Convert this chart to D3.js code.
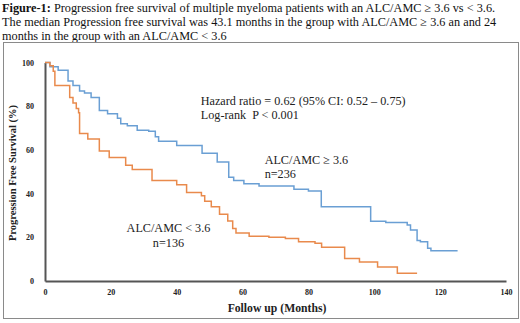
<!DOCTYPE html>
<html><head><meta charset="utf-8">
<script src="https://cdn.jsdelivr.net/npm/d3@7"></script>
<style>
body{margin:0;background:#fff;}
text{font-family:"Liberation Serif","Times New Roman",serif;white-space:pre;}
</style></head>
<body><svg id="c" width="520" height="323"></svg>
<script>
const titleLines = [
  ["Figure-1:", " Progression free survival of multiple myeloma patients with an ALC/AMC \u2265 3.6 vs < 3.6."],
  ["", "The median Progression free survival was 43.1 months in the group with ALC/AMC \u2265 3.6 an and 24"],
  ["", "months in the group with an ALC/AMC < 3.6"]
];
const xTicks = [0,20,40,60,80,100,120,140];
const yTicks = [0,20,40,60,80,100];
const highTime = [0,1.5,4,7,8.5,10.5,12,14,16.5,19,22,23,25,28,31.5,33.5,34.5,40,47.7,52.3,55.8,57.3,60.4,65,75.6,80,83.9,98.9,103.5,110,111,113,114,116.2,117.2,125.3];
const highSurv = [100,98,96.5,91.5,89.5,87,86,84,78,76.5,74.5,72,71,69,68.5,66,64,62,58.5,54.5,47.5,46,44.5,43.5,42,41.2,34,27.3,26.8,25.6,23.3,18.5,18,15,13.8,13.8];
const lowTime = [0,1.5,2.5,3,7.5,8.5,9.5,10.2,10.5,13,16.5,19.5,24.5,26.5,32.5,40,43,47.5,48.5,50.5,53,55.5,57,58,62,68,73,77,82,84,91,95.5,101,107,113];
const lowSurv = [100,98.5,96,89.5,84,81.5,79,77,67.5,65,59.5,56.5,53,51,46,44,40.5,39,36.5,34,30.5,27.5,24,22,20.5,20,19.5,18,17.3,15.5,10.3,8.7,6.4,3.6,3.6];
const annotations = [
  {text:"Hazard ratio = 0.62 (95% CI: 0.52 \u2013 0.75)", t:47.3, s:80.5, anchor:"start"},
  {text:"Log-rank  P < 0.001", t:47.3, s:74, anchor:"start"},
  {text:"ALC/AMC \u2265 3.6", t:66.7, s:53.5, anchor:"start"},
  {text:"n=236", t:66.7, s:47, anchor:"start"},
  {text:"ALC/AMC < 3.6", t:37.5, s:22.5, anchor:"middle"},
  {text:"n=136", t:37.5, s:15.7, anchor:"middle"}
];

const svg = d3.select("#c");
const x = d3.scaleLinear().domain([0,140]).range([45,506]);
const y = d3.scaleLinear().domain([0,100]).range([281,62.5]);

// title
const titleTexts = titleLines.map((l,i)=>{
  const t = svg.append("text").attr("x",2).attr("y",12+i*14).attr("font-size","12px").attr("fill","#111");
  if(l[0]) t.append("tspan").attr("font-weight","bold").text(l[0]);
  t.append("tspan").text(l[1]);
  return t;
});
const w0 = titleTexts[0].node().getComputedTextLength();
const fs = Math.min(14, 12 * 494 / w0);
titleTexts.forEach(t=>t.attr("font-size", fs + "px"));

// frame
svg.append("rect").attr("x",3.5).attr("y",42.5).attr("width",515).attr("height",276)
  .attr("fill","none").attr("stroke","#8a8a8a").attr("stroke-width",1);

// axes
const xAxis = svg.append("g").attr("transform",`translate(0,${y(0)})`)
  .call(d3.axisBottom(x).tickValues(xTicks).tickSize(0).tickPadding(8));
const yAxis = svg.append("g").attr("transform",`translate(${x(0)},0)`)
  .call(d3.axisLeft(y).tickValues(yTicks).tickSize(0).tickPadding(11));
[xAxis,yAxis].forEach(g=>{
  g.select(".domain").attr("stroke","#555").attr("stroke-width",2);
  g.selectAll("text").attr("font-family","Liberation Serif").attr("font-weight","bold")
   .attr("font-size","8px").attr("fill","#222");
});

// curves
const line = d3.line().x(d=>x(d[0])).y(d=>y(d[1])).curve(d3.curveStepAfter);
svg.append("path").datum(highTime.map((t,i)=>[t,highSurv[i]]))
  .attr("d",line).attr("fill","none").attr("stroke","#6a9fd4").attr("stroke-width",1.5);
svg.append("path").datum(lowTime.map((t,i)=>[t,lowSurv[i]]))
  .attr("d",line).attr("fill","none").attr("stroke","#e98a4c").attr("stroke-width",1.5);

// annotations
annotations.forEach(a=>{
  svg.append("text").attr("x",x(a.t)).attr("y",y(a.s)).attr("text-anchor",a.anchor)
    .attr("font-size","12.2px").attr("fill","#222").text(a.text);
});

// axis titles
svg.append("text").attr("x",277).attr("y",312).attr("text-anchor","middle")
  .attr("font-weight","bold").attr("font-size","11.7px").attr("fill","#222").text("Follow up (Months)");
svg.append("text").attr("transform","translate(16,173) rotate(-90)").attr("text-anchor","middle")
  .attr("font-weight","bold").attr("font-size","10.5px").attr("fill","#222").text("Progression Free Survival (%)");
</script></body></html>
